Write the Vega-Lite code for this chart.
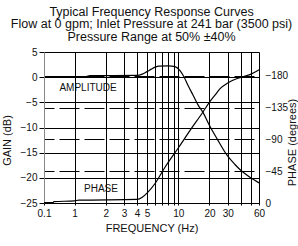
{
  "$schema": "https://vega.github.io/schema/vega-lite/v6.json",
  "width": 215,
  "height": 151,
  "autosize": {"type": "none"},
  "padding": {"left": 44, "top": 52, "right": 39, "bottom": 43},
  "background": "#ffffff",
  "config": {
    "view": {"stroke": null},
    "font": "Liberation Sans",
    "axis": {"labelFont": "Liberation Sans", "titleFont": "Liberation Sans", "labelColor": "#111", "titleColor": "#111", "labelFontSize": 10, "titleFontSize": 11, "titleFontWeight": "normal"}
  },
  "title": {
    "text": ["Typical Frequency Response Curves", "Flow at 0 gpm; Inlet Pressure at 241 bar (3500 psi)", "Pressure Range at 50% ±40%"],
    "font": "Liberation Sans",
    "fontSize": 12.5,
    "fontWeight": "normal",
    "color": "#111",
    "anchor": "middle",
    "lineHeight": 12.5,
    "offset": 4
  },
  "layer": [
    {
      "data": {"values": [
        {"f": 0.2, "gain": 0.1}, {"f": 1.3, "gain": 0.1}, {"f": 1.4, "gain": 0.3}, {"f": 4.0, "gain": 0.35},
        {"f": 4.5, "gain": 0.6}, {"f": 5.0, "gain": 1.1}, {"f": 5.5, "gain": 1.6}, {"f": 6.0, "gain": 2.0},
        {"f": 6.5, "gain": 2.2}, {"f": 8.0, "gain": 2.25}, {"f": 9.3, "gain": 2.1}, {"f": 10.4, "gain": 1.3},
        {"f": 11.4, "gain": 0.0}, {"f": 12.4, "gain": -1.6}, {"f": 13.9, "gain": -3.6}, {"f": 15.5, "gain": -5.5},
        {"f": 17.3, "gain": -7.0}, {"f": 20, "gain": -9.6}, {"f": 23.6, "gain": -12.2}, {"f": 29.5, "gain": -15.5},
        {"f": 35, "gain": -17.3}, {"f": 40, "gain": -18.5}, {"f": 50, "gain": -20.0}, {"f": 60, "gain": -21.0}
      ]},
      "mark": {"type": "line", "color": "#000", "strokeWidth": 1.2, "interpolate": "monotone"},
      "encoding": {
        "x": {
          "field": "f", "type": "quantitative",
          "scale": {"type": "log", "domain": [0.1, 1, 60], "range": [0, 30.5, 215], "nice": false},
          "axis": {
            "values": [0.1, 1, 2, 3, 4, 5, 6, 7, 8, 9, 10, 20, 30, 40, 50, 60],
            "format": "~g",
            "labelExpr": "datum.value == 6 || datum.value == 7 || datum.value == 8 || datum.value == 9 || datum.value == 40 || datum.value == 50 ? '' : datum.label",
            "labelOverlap": false,
            "labelFlush": false,
            "grid": true,
            "gridColor": {"condition": {"test": "datum.value == 0.1", "value": "#888"}, "value": "#000"},
            "gridOpacity": 1,
            "gridWidth": 1,
            "domainColor": "#000",
            "tickSize": 2,
            "tickColor": "#000",
            "labelPadding": 3,
            "title": "FREQUENCY (Hz)",
            "titlePadding": 4
          }
        },
        "y": {
          "field": "gain", "type": "quantitative",
          "scale": {"domain": [-25, 5], "nice": false, "zero": false},
          "axis": {
            "orient": "left",
            "values": [5, 0, -5, -10, -15, -20, -25],
            "grid": true,
            "gridColor": "#000",
            "gridOpacity": 1,
            "gridWidth": 1,
            "domainColor": "#888",
            "tickColor": "#000",
            "tickSize": 5,
            "labelPadding": 2,
            "title": "GAIN (dB)",
            "titleAngle": -90,
            "titleBaseline": "middle",
            "titleAlign": "center",
            "titleX": -37,
            "titleY": 88
          }
        }
      }
    },
    {
      "data": {"values": [
        {"f": 0.1, "phase": -0.5}, {"f": 0.2, "phase": -0.5}, {"f": 0.21, "phase": -2}, {"f": 1, "phase": -3},
        {"f": 1.1, "phase": -4}, {"f": 4, "phase": -5}, {"f": 4.5, "phase": -8}, {"f": 5, "phase": -14},
        {"f": 6, "phase": -28}, {"f": 7.4, "phase": -50}, {"f": 10, "phase": -78}, {"f": 13, "phase": -103},
        {"f": 17.3, "phase": -129}, {"f": 20, "phase": -143}, {"f": 22.6, "phase": -153}, {"f": 25.3, "phase": -162},
        {"f": 30, "phase": -170}, {"f": 33.6, "phase": -174}, {"f": 40, "phase": -178}, {"f": 49, "phase": -182},
        {"f": 60, "phase": -189}
      ]},
      "mark": {"type": "line", "color": "#000", "strokeWidth": 1.2, "interpolate": "monotone"},
      "encoding": {
        "x": {"field": "f", "type": "quantitative"},
        "y": {
          "field": "phase", "type": "quantitative",
          "scale": {"domain": [0, -214], "nice": false, "zero": false},
          "axis": {
            "orient": "right",
            "values": [0, -45, -90, -135, -180],
            "grid": true,
            "gridColor": "#000",
            "gridOpacity": 1,
            "gridWidth": 1,
            "gridDash": [20, 5],
            "gridDashOffset": 20,
            "domain": false,
            "ticks": false,
            "labelPadding": 6,
            "title": "PHASE (degrees)",
            "titleAngle": -90,
            "titleBaseline": "middle",
            "titleAlign": "center",
            "titleX": 33,
            "titleY": 90
          }
        }
      }
    },
    {
      "data": {"values": [
        {"f": 1.35, "g": -2.2, "label": "AMPLITUDE"},
        {"f": 1.8, "g": -22.3, "label": "PHASE"}
      ]},
      "mark": {"type": "text", "font": "Liberation Sans", "fontSize": 10, "color": "#111", "align": "center", "baseline": "middle"},
      "encoding": {
        "x": {"field": "f", "type": "quantitative"},
        "y": {"field": "g", "type": "quantitative", "scale": {"domain": [-25, 5], "nice": false, "zero": false}, "axis": null},
        "text": {"field": "label"}
      }
    }
  ],
  "resolve": {"scale": {"y": "independent"}, "axis": {"y": "independent"}}
}
